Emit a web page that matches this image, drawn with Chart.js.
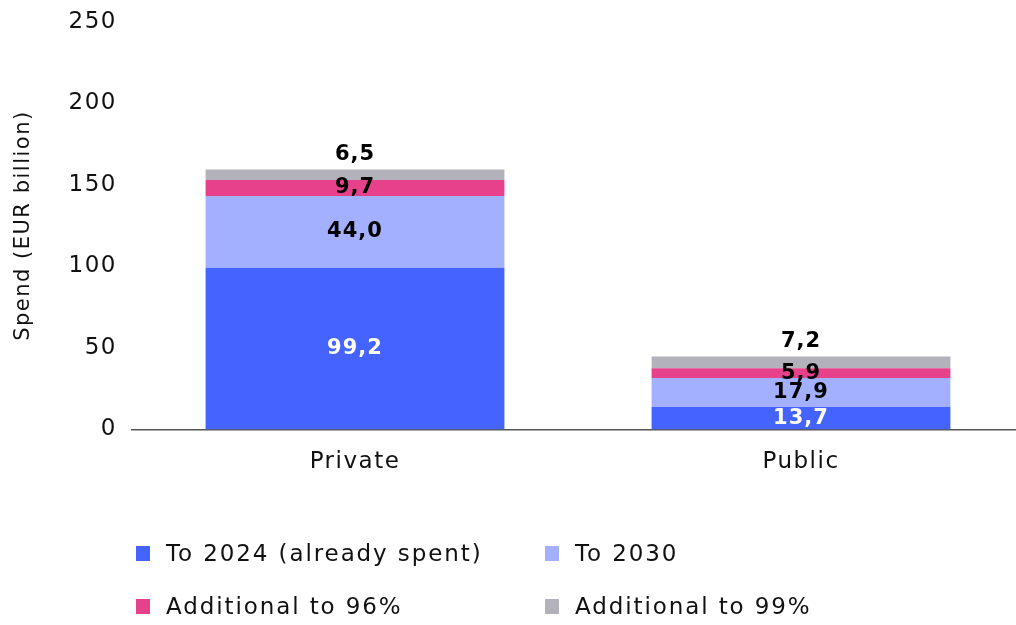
<!DOCTYPE html>
<html>
<head>
<meta charset="utf-8">
<script src="https://cdn.jsdelivr.net/npm/chart.js@4/dist/chart.umd.min.js"></script>
<style>
  html, body { margin: 0; padding: 0; background: #fff; overflow: hidden; }
  #wrap { position: absolute; left: 0; top: -7px; width: 1024px; height: 502px; }
  #legend { position: absolute; left: 0; top: 0; width: 1016px; height: 625px; pointer-events: none;
            font-family: "DejaVu Sans", sans-serif; font-size: 23px; letter-spacing: 1.9px; color: #111; }
  .item { position: absolute; display: flex; align-items: center; white-space: nowrap; }
  .box { width: 14px; height: 15px; margin-right: 16px; }
</style>
</head>
<body>
<div id="wrap"><canvas id="c"></canvas></div>
<div id="legend"></div>
<script>
// Spending by sector, EUR billion
const categories = ["Private", "Public"];
const seriesNames = ["To 2024 (already spent)", "To 2030", "Additional to 96%", "Additional to 99%"];
const to2024 = [99.2, 13.7];
const to2030 = [44.0, 17.9];
const add96 = [9.7, 5.9];
const add99 = [6.5, 7.2];
const yTicks = [0, 50, 100, 150, 200, 250];

const colors = ["#4563ff", "#a3b0ff", "#e7418b", "#b3b1ba"];
const labelColors = ["#ffffff", "#000000", "#000000", "#000000"];
const seriesValues = [to2024, to2030, add96, add99];

const FONT = '"DejaVu Sans", sans-serif';

// Slightly wider tracking for all canvas text
const tracking = {
  id: "tracking",
  beforeLayout(chart) { chart.ctx.letterSpacing = "1.5px"; },
  beforeDraw(chart) { chart.ctx.letterSpacing = "1.5px"; }
};

// Writes each segment's value inside it; the top segment gets its label above the bar
const valueLabels = {
  id: "valueLabels",
  afterDatasetsDraw(chart) {
    const ctx = chart.ctx;
    const last = chart.data.datasets.length - 1;
    ctx.save();
    ctx.letterSpacing = "1px";
    ctx.font = "bold 21px " + FONT;
    ctx.textAlign = "center";
    ctx.textBaseline = "middle";
    chart.data.datasets.forEach((ds, i) => {
      const meta = chart.getDatasetMeta(i);
      meta.data.forEach((bar, j) => {
        const v = ds.data[j];
        const text = v.toFixed(1).replace(".", ",");
        const y = i === last ? bar.y - 15 : (bar.y + bar.base) / 2;
        ctx.fillStyle = labelColors[i];
        ctx.fillText(text, bar.x, y);
      });
    });
    ctx.restore();
  }
};

const chart = new Chart(document.getElementById("c"), {
  type: "bar",
  data: {
    labels: categories,
    datasets: seriesValues.map((vals, i) => ({
      label: seriesNames[i],
      data: vals,
      backgroundColor: colors[i],
      borderWidth: 0,
      barPercentage: 0.67,
      categoryPercentage: 1.0
    }))
  },
  options: {
    responsive: true,
    maintainAspectRatio: false,
    animation: false,
    layout: { padding: { top: 3, right: 0, left: 0, bottom: 0 } },
    plugins: { legend: { display: false }, tooltip: { enabled: false } },
    scales: {
      x: {
        stacked: true,
        grid: { display: false, drawTicks: false },
        border: { display: true, color: "#555", width: 1.5 },
        ticks: { color: "#111", font: { family: FONT, size: 23 }, padding: 19 }
      },
      y: {
        stacked: true,
        min: 0,
        max: 250,
        afterBuildTicks(scale) { scale.ticks = yTicks.map(v => ({ value: v })); },
        afterFit(scale) { scale.width = 132; },
        grid: { display: false, drawTicks: false },
        border: { display: false },
        ticks: { color: "#111", font: { family: FONT, size: 23 }, padding: 15 },
        title: {
          display: true,
          text: "Spend (EUR billion)",
          color: "#111",
          font: { family: FONT, size: 21 },
          padding: { top: 11, bottom: 0 }
        }
      }
    }
  },
  plugins: [tracking, valueLabels]
});

// Two-column legend under the chart
const legendPos = [[136, 553], [545, 553], [136, 606], [545, 606]];
const legend = document.getElementById("legend");
chart.data.datasets.forEach((ds, i) => {
  const item = document.createElement("div");
  item.className = "item";
  item.style.left = legendPos[i][0] + "px";
  item.style.top = (legendPos[i][1] - 14) + "px";
  item.style.height = "28px";
  const box = document.createElement("span");
  box.className = "box";
  box.style.background = ds.backgroundColor;
  const txt = document.createElement("span");
  txt.textContent = ds.label;
  item.appendChild(box);
  item.appendChild(txt);
  legend.appendChild(item);
});
</script>
</body>
</html>
